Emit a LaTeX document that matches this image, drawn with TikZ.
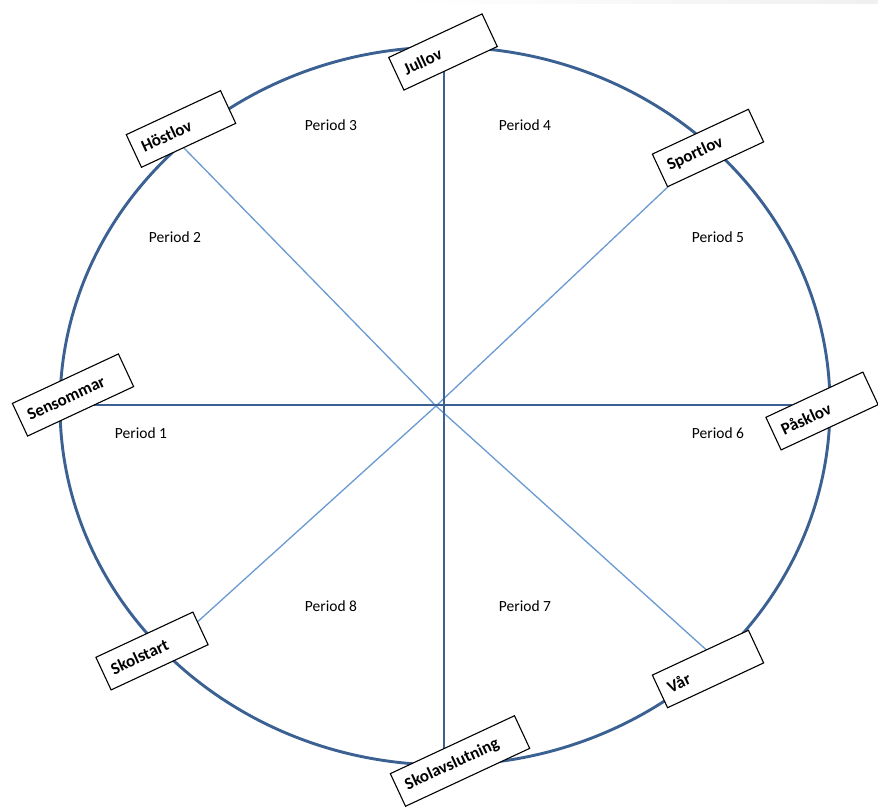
\documentclass[tikz,border=0pt]{standalone}
\usepackage{fontspec}
\setmainfont{Carlito}
\definecolor{darkline}{HTML}{3B6193}
\definecolor{lightline}{HTML}{6A9AD2}
\begin{document}
\begin{tikzpicture}[x=1pt,y=-1pt,
  lbl/.style={draw=black, fill=white, line width=1.1pt, rotate=25,
     minimum height=36pt, inner xsep=9pt, inner ysep=0pt, align=left,
     font=\fontsize{17}{17}\selectfont\bfseries},
  per/.style={font=\fontsize{15.5}{15.5}\selectfont, inner sep=0pt},
  thick line/.style={draw=darkline, line width=2.9pt},
  thin line/.style={draw=lightline, line width=1.3pt}]
\useasboundingbox (0,0) rectangle (878,810);
\fill[white] (0,0) rectangle (878,810);
\shade[left color=white, right color=gray!12] (400,0) rectangle (878,4);

% connector coordinates
\coordinate (C) at (436,406);
\coordinate (top) at (444,62);
\coordinate (bot) at (444,752);
\coordinate (lft) at (92,405);
\coordinate (rgt) at (792,405);
\coordinate (dA) at (184,148);
\coordinate (dB) at (712,655);
\coordinate (dC) at (672,183);
\coordinate (dD) at (194,625);

% lines
\draw[thin line] (dA) -- (C) -- (dB);
\draw[thin line] (dC) -- (C) -- (dD);
\draw[thick line] (top) -- (bot);
\draw[thick line] (lft) -- (rgt);

% outer ellipse
\draw[thick line] (445,406) ellipse [x radius=385, y radius=359];

% labels
\node[lbl, text width=85pt] (jullov) at (443,52) {Jullov};
\node[lbl, text width=86pt] (hostlov) at (181,129) {Höstlov};
\node[lbl, text width=88pt] (sportlov) at (708,148) {Sportlov};
\node[lbl, text width=99pt] (sensommar) at (73,395) {Sensommar};
\node[lbl, text width=89pt] (pasklov) at (822,411) {Påsklov};
\node[lbl, text width=89pt] (skolstart) at (152,651) {Skolstart};
\node[lbl, text width=88pt] (var) at (708,669) {Vår};
\node[lbl, text width=119pt] (skolavslutning) at (460,761) {Skolavslutning};

% periods
\node[per] (p3) at (331,125) {Period 3};
\node[per] (p4) at (525,125) {Period 4};
\node[per] (p2) at (175,237) {Period 2};
\node[per] (p5) at (718,237) {Period 5};
\node[per] (p1) at (141,433) {Period 1};
\node[per] (p6) at (718,433) {Period 6};
\node[per] (p8) at (331,606) {Period 8};
\node[per] (p7) at (525,606) {Period 7};
\end{tikzpicture}
\end{document}
